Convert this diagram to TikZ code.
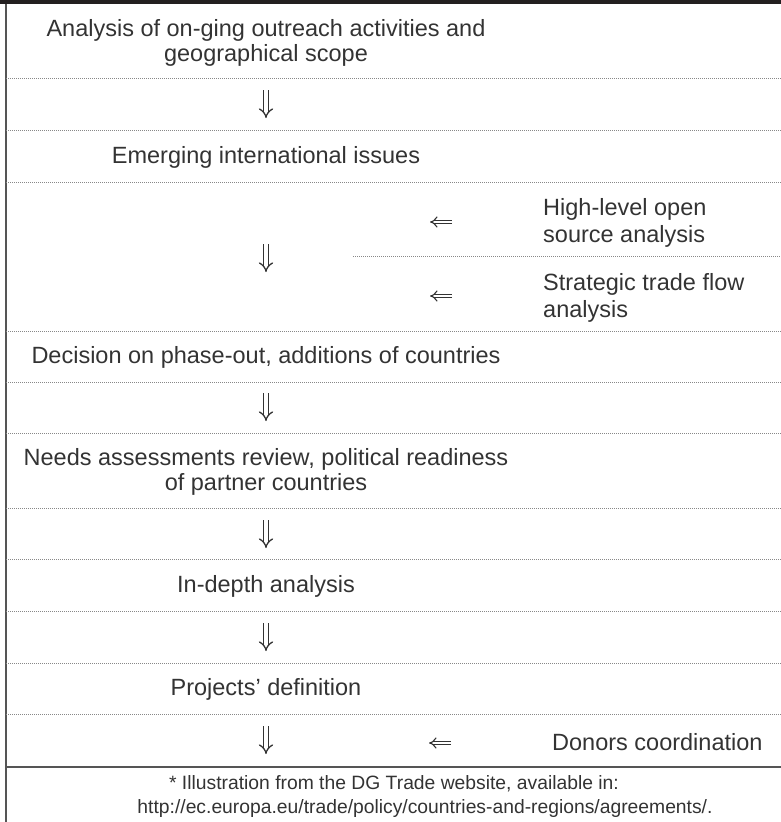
\documentclass[tikz,border=0pt]{standalone}
\usepackage{fontspec}
\setmainfont{Liberation Sans}
\usetikzlibrary{arrows.meta}
\definecolor{ink}{HTML}{333333}
\definecolor{barcol}{HTML}{231F20}
\definecolor{framecol}{HTML}{555555}
\definecolor{dotcol}{HTML}{888888}
\begin{document}
\begin{tikzpicture}[x=1pt,y=-1pt,
  txt/.style={font=\fontsize{23.5}{25.5}\selectfont, text=ink, align=center, inner sep=0pt},
  sidetxt/.style={txt, anchor=west, align=left, font=\fontsize{23.5}{26.5}\selectfont},
  note/.style={font=\fontsize{19.3}{24}\selectfont, text=ink, inner sep=0pt},
  dbldown/.style={draw=ink, line width=1.3pt, double=white, double distance=3.6pt, -{Implies}},
  dblleft/.style={draw=ink, line width=1.15pt, double=white, double distance=2.6pt, -{Implies}},
  sep/.style={draw=dotcol, line width=0.7pt, dash pattern=on 0.7pt off 1.3pt},
  frame/.style={draw=framecol, line width=1.2pt}]
\useasboundingbox (0,0) rectangle (781,822);
% heading bar and left rule
\fill[barcol] (0,0) rectangle (781,4);
\draw[frame] (6,4) -- (6,822);
% row separators
\foreach \yy in {78,130,182,331,382,433,508,559,611,663,714}
  \draw[sep] (6,\yy) -- (781,\yy);
\draw[sep] (353,256) -- (781,256);
\draw[frame] (6,767) -- (781,767);
% main sequence
\node[txt] (n1) at (266,43) {Analysis of on-ging outreach activities and\\geographical scope};
\node[txt] (n2) at (266,157) {Emerging international issues};
\node[txt] (n3) at (266,357) {Decision on phase-out, additions of countries};
\node[txt] (n4) at (266,472) {Needs assessments review, political readiness\\of partner countries};
\node[txt] (n5) at (266,586) {In-depth analysis};
\node[txt] (n6) at (266,689) {Projects’ definition};
% downward steps
\foreach \name/\yc in {a1/104,a2/258,a3/407,a4/534,a5/637,a6/740}{
  \coordinate (\name t) at (266,\yc-14);
  \coordinate (\name b) at (266,\yc+14);
  \draw[dbldown] (\name t) -- (\name b);
}
% side inputs
\node[sidetxt] (s1) at (543,223) {High-level open\\source analysis};
\node[sidetxt] (s2) at (543,298) {Strategic trade flow\\analysis};
\node[sidetxt] (s3) at (552,742) {Donors coordination};
\foreach \name/\xc/\yc in {l1/441/222,l2/441/296,l3/440/743}{
  \coordinate (\name r) at (\xc+11,\yc);
  \coordinate (\name l) at (\xc-11,\yc);
  \draw[dblleft] (\name r) -- (\name l);
}
% source note
\node[note] (f1) at (394,784) {* Illustration from the DG Trade website, available in:};
\node[note] (f2) at (425,808) {http://ec.europa.eu/trade/policy/countries-and-regions/agreements/.};
\end{tikzpicture}
\end{document}
